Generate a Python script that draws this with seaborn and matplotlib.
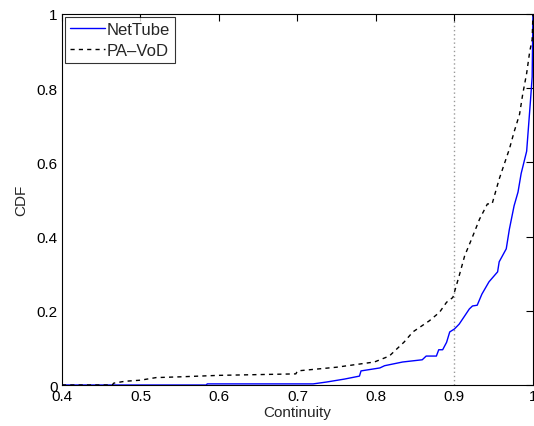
import matplotlib
matplotlib.use("Agg")
import matplotlib.pyplot as plt
import seaborn as sns
import pandas as pd
from matplotlib.ticker import FuncFormatter

sns.set_theme(style="white")
plt.rcParams['font.family'] = ['Liberation Sans', 'DejaVu Sans']

# NetTube CDF (continuity, cdf)
nettube_x = [0.40, 0.584, 0.585, 0.72, 0.737, 0.76, 0.779, 0.781, 0.805, 0.811, 0.834, 0.859, 0.864,
             0.877, 0.880, 0.885, 0.890, 0.894, 0.900, 0.906, 0.913, 0.919, 0.923, 0.929,
             0.935, 0.944, 0.955, 0.957, 0.966, 0.970, 0.976, 0.981, 0.985, 0.992, 0.997, 0.999, 1.0]
nettube_y = [0.0, 0.0, 0.003, 0.003, 0.008, 0.016, 0.024, 0.038, 0.046, 0.052, 0.062, 0.068, 0.078,
             0.078, 0.095, 0.095, 0.115, 0.143, 0.151, 0.164, 0.186, 0.205, 0.213, 0.215,
             0.245, 0.278, 0.305, 0.332, 0.367, 0.420, 0.483, 0.52, 0.57, 0.63, 0.77, 0.83, 1.0]

# PA-VoD CDF
pavod_x = [0.40, 0.464, 0.466, 0.48, 0.50, 0.52, 0.55, 0.60, 0.698, 0.70, 0.75, 0.798, 0.817, 0.836, 0.847,
           0.868, 0.881, 0.890, 0.898, 0.906, 0.913, 0.922, 0.932, 0.942, 0.948, 0.957,
           0.970, 0.976, 0.983, 0.987, 0.992, 0.996, 0.999, 1.0]
pavod_y = [0.0, 0.0, 0.005, 0.010, 0.013, 0.020, 0.022, 0.026, 0.030, 0.038, 0.048, 0.062, 0.078, 0.116, 0.143,
           0.173, 0.196, 0.223, 0.236, 0.294, 0.348, 0.394, 0.447, 0.488, 0.488, 0.555,
           0.636, 0.682, 0.73, 0.784, 0.84, 0.90, 0.93, 1.0]

x_ticks = [0.4, 0.5, 0.6, 0.7, 0.8, 0.9, 1.0]
y_ticks = [0, 0.2, 0.4, 0.6, 0.8, 1.0]

df = pd.concat([
    pd.DataFrame({"Continuity": nettube_x, "CDF": nettube_y, "series": "NetTube"}),
    pd.DataFrame({"Continuity": pavod_x, "CDF": pavod_y, "series": "PA\u2013VoD"}),
])

fig = plt.figure(figsize=(5.34, 4.27), dpi=100)
ax = fig.add_axes([0.116, 0.096, 0.882, 0.869])

sns.lineplot(data=df[df.series == "NetTube"], x="Continuity", y="CDF", ax=ax,
             color="#0000ff", lw=1.0, sort=False, estimator=None, label="NetTube")
sns.lineplot(data=df[df.series != "NetTube"], x="Continuity", y="CDF", ax=ax,
             color="black", lw=1.0, sort=False, estimator=None, label="PA\u2013VoD")
ax.lines[-1].set_linestyle((0, (4, 4)))

ax.axvline(0.9, color="#999999", lw=1.0, linestyle=(0, (1, 2)), zorder=0)

ax.set_xlim(0.4, 1.0)
ax.set_ylim(0, 1)
ax.set_xticks(x_ticks)
ax.set_yticks(y_ticks)
fmt = FuncFormatter(lambda v, p: ("%g" % round(v, 2)))
ax.xaxis.set_major_formatter(fmt)
ax.yaxis.set_major_formatter(fmt)
ax.tick_params(direction="in", length=5, width=0.8, top=True, right=True,
               labelsize=11, colors="black", pad=3)
for s in ax.spines.values():
    s.set_color("black")
    s.set_linewidth(0.8)
ax.set_xlabel("Continuity", fontsize=11, labelpad=1)
ax.set_ylabel("CDF", fontsize=11, labelpad=6)

handles, labels = ax.get_legend_handles_labels()
handles[1].set_linestyle((0, (3, 3)))
leg = ax.legend(handles, labels, loc="upper left", fontsize=12, frameon=True, fancybox=False,
                edgecolor="black", handlelength=2.1, handletextpad=0.1,
                borderpad=0.3, labelspacing=0.35, borderaxespad=0.2)
leg.get_frame().set_linewidth(0.8)

fig.savefig("out.png", dpi=100)
